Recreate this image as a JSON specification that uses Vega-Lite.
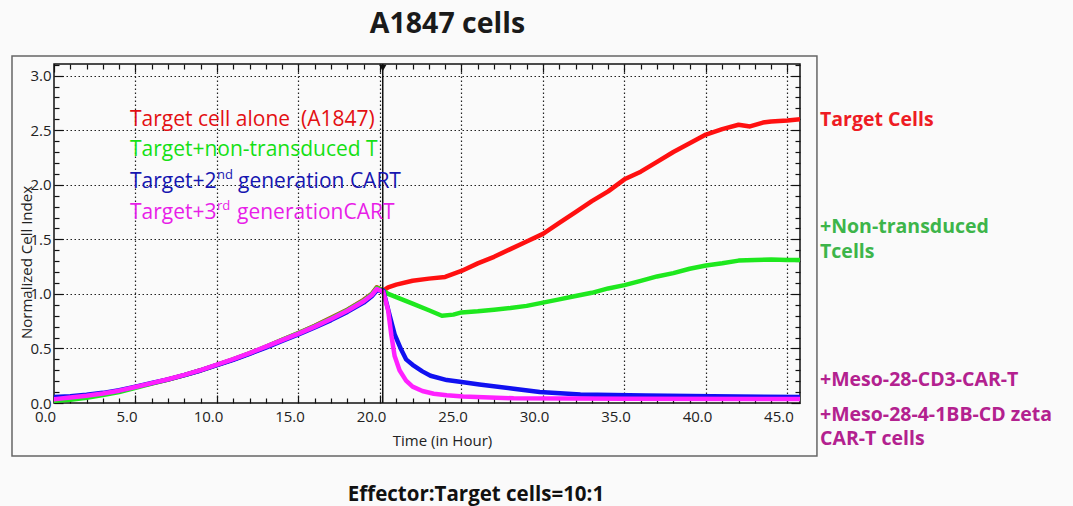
{
  "$schema": "https://vega.github.io/schema/vega-lite/v6.json",
  "width": 746,
  "height": 339,
  "autosize": {"type": "none"},
  "padding": {"left": 54, "top": 64, "right": 273, "bottom": 103},
  "background": "#fafafa",
  "config": {
    "view": {"stroke": "#111", "strokeWidth": 1.5},
    "font": "Open Sans",
    "axis": {"labelFont": "Open Sans", "titleFont": "Open Sans", "labelColor": "#222", "titleColor": "#222", "tickColor": "#111"}
  },
  "title": {
    "text": "Effector:Target cells=10:1",
    "orient": "bottom",
    "frame": "group",
    "anchor": "middle",
    "baseline": "alphabetic",
    "offset": 44,
    "dx": 49,
    "fontSize": 20.5,
    "fontWeight": "bold",
    "font": "Open Sans",
    "color": "#111"
  },
  "datasets": {
    "series": [
      {"s": "1 Target alone", "h": 0, "v": 0.04}, {"s": "1 Target alone", "h": 1, "v": 0.048}, {"s": "1 Target alone", "h": 2, "v": 0.065}, {"s": "1 Target alone", "h": 3, "v": 0.085}, {"s": "1 Target alone", "h": 4, "v": 0.11}, {"s": "1 Target alone", "h": 5, "v": 0.145}, {"s": "1 Target alone", "h": 6, "v": 0.18}, {"s": "1 Target alone", "h": 7, "v": 0.215}, {"s": "1 Target alone", "h": 8, "v": 0.255}, {"s": "1 Target alone", "h": 9, "v": 0.3}, {"s": "1 Target alone", "h": 10, "v": 0.35}, {"s": "1 Target alone", "h": 11, "v": 0.4}, {"s": "1 Target alone", "h": 12, "v": 0.455}, {"s": "1 Target alone", "h": 13, "v": 0.515}, {"s": "1 Target alone", "h": 14, "v": 0.578}, {"s": "1 Target alone", "h": 15, "v": 0.64}, {"s": "1 Target alone", "h": 16, "v": 0.707}, {"s": "1 Target alone", "h": 17, "v": 0.78}, {"s": "1 Target alone", "h": 18, "v": 0.855}, {"s": "1 Target alone", "h": 19, "v": 0.945}, {"s": "1 Target alone", "h": 19.5, "v": 1.0}, {"s": "1 Target alone", "h": 19.8, "v": 1.06}, {"s": "1 Target alone", "h": 20.2, "v": 1.03},
      {"s": "1 Target alone", "h": 20.5, "v": 1.06}, {"s": "1 Target alone", "h": 21, "v": 1.085}, {"s": "1 Target alone", "h": 22, "v": 1.12}, {"s": "1 Target alone", "h": 23, "v": 1.14}, {"s": "1 Target alone", "h": 24, "v": 1.155}, {"s": "1 Target alone", "h": 25, "v": 1.21}, {"s": "1 Target alone", "h": 26, "v": 1.28}, {"s": "1 Target alone", "h": 27, "v": 1.34}, {"s": "1 Target alone", "h": 28, "v": 1.41}, {"s": "1 Target alone", "h": 29, "v": 1.48}, {"s": "1 Target alone", "h": 30, "v": 1.55}, {"s": "1 Target alone", "h": 31, "v": 1.65}, {"s": "1 Target alone", "h": 32, "v": 1.75}, {"s": "1 Target alone", "h": 33, "v": 1.85}, {"s": "1 Target alone", "h": 34, "v": 1.94}, {"s": "1 Target alone", "h": 35, "v": 2.05}, {"s": "1 Target alone", "h": 36, "v": 2.12}, {"s": "1 Target alone", "h": 37, "v": 2.21}, {"s": "1 Target alone", "h": 38, "v": 2.3}, {"s": "1 Target alone", "h": 39, "v": 2.38}, {"s": "1 Target alone", "h": 40, "v": 2.46}, {"s": "1 Target alone", "h": 41, "v": 2.51}, {"s": "1 Target alone", "h": 42, "v": 2.55}, {"s": "1 Target alone", "h": 42.7, "v": 2.535}, {"s": "1 Target alone", "h": 43.5, "v": 2.57}, {"s": "1 Target alone", "h": 44, "v": 2.58}, {"s": "1 Target alone", "h": 45, "v": 2.59}, {"s": "1 Target alone", "h": 45.7, "v": 2.6},

      {"s": "2 Non-transduced T", "h": 0, "v": 0.02}, {"s": "2 Non-transduced T", "h": 1, "v": 0.03}, {"s": "2 Non-transduced T", "h": 2, "v": 0.048}, {"s": "2 Non-transduced T", "h": 3, "v": 0.072}, {"s": "2 Non-transduced T", "h": 4, "v": 0.1}, {"s": "2 Non-transduced T", "h": 5, "v": 0.138}, {"s": "2 Non-transduced T", "h": 6, "v": 0.177}, {"s": "2 Non-transduced T", "h": 7, "v": 0.214}, {"s": "2 Non-transduced T", "h": 8, "v": 0.255}, {"s": "2 Non-transduced T", "h": 9, "v": 0.3}, {"s": "2 Non-transduced T", "h": 10, "v": 0.35}, {"s": "2 Non-transduced T", "h": 11, "v": 0.4}, {"s": "2 Non-transduced T", "h": 12, "v": 0.455}, {"s": "2 Non-transduced T", "h": 13, "v": 0.515}, {"s": "2 Non-transduced T", "h": 14, "v": 0.578}, {"s": "2 Non-transduced T", "h": 15, "v": 0.64}, {"s": "2 Non-transduced T", "h": 16, "v": 0.705}, {"s": "2 Non-transduced T", "h": 17, "v": 0.777}, {"s": "2 Non-transduced T", "h": 18, "v": 0.852}, {"s": "2 Non-transduced T", "h": 19, "v": 0.94}, {"s": "2 Non-transduced T", "h": 19.5, "v": 0.998}, {"s": "2 Non-transduced T", "h": 19.8, "v": 1.055}, {"s": "2 Non-transduced T", "h": 20.2, "v": 1.03},
      {"s": "2 Non-transduced T", "h": 20.5, "v": 1.0}, {"s": "2 Non-transduced T", "h": 21, "v": 0.97}, {"s": "2 Non-transduced T", "h": 22, "v": 0.91}, {"s": "2 Non-transduced T", "h": 23, "v": 0.85}, {"s": "2 Non-transduced T", "h": 23.8, "v": 0.8}, {"s": "2 Non-transduced T", "h": 24.5, "v": 0.81}, {"s": "2 Non-transduced T", "h": 25, "v": 0.83}, {"s": "2 Non-transduced T", "h": 26, "v": 0.84}, {"s": "2 Non-transduced T", "h": 27, "v": 0.855}, {"s": "2 Non-transduced T", "h": 28, "v": 0.87}, {"s": "2 Non-transduced T", "h": 29, "v": 0.89}, {"s": "2 Non-transduced T", "h": 30, "v": 0.92}, {"s": "2 Non-transduced T", "h": 31, "v": 0.95}, {"s": "2 Non-transduced T", "h": 32, "v": 0.98}, {"s": "2 Non-transduced T", "h": 33, "v": 1.01}, {"s": "2 Non-transduced T", "h": 34, "v": 1.05}, {"s": "2 Non-transduced T", "h": 35, "v": 1.08}, {"s": "2 Non-transduced T", "h": 36, "v": 1.12}, {"s": "2 Non-transduced T", "h": 37, "v": 1.16}, {"s": "2 Non-transduced T", "h": 38, "v": 1.19}, {"s": "2 Non-transduced T", "h": 39, "v": 1.23}, {"s": "2 Non-transduced T", "h": 40, "v": 1.26}, {"s": "2 Non-transduced T", "h": 41, "v": 1.28}, {"s": "2 Non-transduced T", "h": 42, "v": 1.305}, {"s": "2 Non-transduced T", "h": 43, "v": 1.31}, {"s": "2 Non-transduced T", "h": 44, "v": 1.315}, {"s": "2 Non-transduced T", "h": 45, "v": 1.31}, {"s": "2 Non-transduced T", "h": 45.7, "v": 1.31},

      {"s": "3 2nd gen CART", "h": 0, "v": 0.055}, {"s": "3 2nd gen CART", "h": 1, "v": 0.062}, {"s": "3 2nd gen CART", "h": 2, "v": 0.075}, {"s": "3 2nd gen CART", "h": 3, "v": 0.093}, {"s": "3 2nd gen CART", "h": 4, "v": 0.117}, {"s": "3 2nd gen CART", "h": 5, "v": 0.15}, {"s": "3 2nd gen CART", "h": 6, "v": 0.183}, {"s": "3 2nd gen CART", "h": 7, "v": 0.217}, {"s": "3 2nd gen CART", "h": 8, "v": 0.255}, {"s": "3 2nd gen CART", "h": 9, "v": 0.298}, {"s": "3 2nd gen CART", "h": 10, "v": 0.347}, {"s": "3 2nd gen CART", "h": 11, "v": 0.396}, {"s": "3 2nd gen CART", "h": 12, "v": 0.45}, {"s": "3 2nd gen CART", "h": 13, "v": 0.508}, {"s": "3 2nd gen CART", "h": 14, "v": 0.568}, {"s": "3 2nd gen CART", "h": 15, "v": 0.628}, {"s": "3 2nd gen CART", "h": 16, "v": 0.692}, {"s": "3 2nd gen CART", "h": 17, "v": 0.76}, {"s": "3 2nd gen CART", "h": 18, "v": 0.835}, {"s": "3 2nd gen CART", "h": 19, "v": 0.92}, {"s": "3 2nd gen CART", "h": 19.5, "v": 0.978}, {"s": "3 2nd gen CART", "h": 19.8, "v": 1.03}, {"s": "3 2nd gen CART", "h": 20.2, "v": 1.03},
      {"s": "3 2nd gen CART", "h": 20.6, "v": 0.8}, {"s": "3 2nd gen CART", "h": 20.9, "v": 0.63}, {"s": "3 2nd gen CART", "h": 21.3, "v": 0.49}, {"s": "3 2nd gen CART", "h": 21.6, "v": 0.4}, {"s": "3 2nd gen CART", "h": 22, "v": 0.35}, {"s": "3 2nd gen CART", "h": 22.6, "v": 0.29}, {"s": "3 2nd gen CART", "h": 23.1, "v": 0.25}, {"s": "3 2nd gen CART", "h": 24.1, "v": 0.21}, {"s": "3 2nd gen CART", "h": 24.9, "v": 0.195}, {"s": "3 2nd gen CART", "h": 26.1, "v": 0.17}, {"s": "3 2nd gen CART", "h": 28.2, "v": 0.13}, {"s": "3 2nd gen CART", "h": 29.8, "v": 0.1}, {"s": "3 2nd gen CART", "h": 32.3, "v": 0.077}, {"s": "3 2nd gen CART", "h": 36.3, "v": 0.068}, {"s": "3 2nd gen CART", "h": 40.4, "v": 0.061}, {"s": "3 2nd gen CART", "h": 45.7, "v": 0.056},

      {"s": "4 3rd gen CART", "h": 0, "v": 0.035}, {"s": "4 3rd gen CART", "h": 1, "v": 0.05}, {"s": "4 3rd gen CART", "h": 2, "v": 0.066}, {"s": "4 3rd gen CART", "h": 3, "v": 0.087}, {"s": "4 3rd gen CART", "h": 4, "v": 0.113}, {"s": "4 3rd gen CART", "h": 5, "v": 0.147}, {"s": "4 3rd gen CART", "h": 6, "v": 0.182}, {"s": "4 3rd gen CART", "h": 7, "v": 0.218}, {"s": "4 3rd gen CART", "h": 8, "v": 0.258}, {"s": "4 3rd gen CART", "h": 9, "v": 0.302}, {"s": "4 3rd gen CART", "h": 10, "v": 0.352}, {"s": "4 3rd gen CART", "h": 11, "v": 0.402}, {"s": "4 3rd gen CART", "h": 12, "v": 0.457}, {"s": "4 3rd gen CART", "h": 13, "v": 0.516}, {"s": "4 3rd gen CART", "h": 14, "v": 0.576}, {"s": "4 3rd gen CART", "h": 15, "v": 0.636}, {"s": "4 3rd gen CART", "h": 16, "v": 0.7}, {"s": "4 3rd gen CART", "h": 17, "v": 0.77}, {"s": "4 3rd gen CART", "h": 18, "v": 0.845}, {"s": "4 3rd gen CART", "h": 19, "v": 0.932}, {"s": "4 3rd gen CART", "h": 19.5, "v": 0.99}, {"s": "4 3rd gen CART", "h": 19.8, "v": 1.045}, {"s": "4 3rd gen CART", "h": 20.2, "v": 1.02},
      {"s": "4 3rd gen CART", "h": 20.5, "v": 0.85}, {"s": "4 3rd gen CART", "h": 20.7, "v": 0.62}, {"s": "4 3rd gen CART", "h": 20.9, "v": 0.43}, {"s": "4 3rd gen CART", "h": 21.2, "v": 0.3}, {"s": "4 3rd gen CART", "h": 21.6, "v": 0.205}, {"s": "4 3rd gen CART", "h": 22, "v": 0.15}, {"s": "4 3rd gen CART", "h": 22.6, "v": 0.11}, {"s": "4 3rd gen CART", "h": 23.3, "v": 0.085}, {"s": "4 3rd gen CART", "h": 24.1, "v": 0.072}, {"s": "4 3rd gen CART", "h": 25.1, "v": 0.06}, {"s": "4 3rd gen CART", "h": 28.2, "v": 0.043}, {"s": "4 3rd gen CART", "h": 35, "v": 0.038}, {"s": "4 3rd gen CART", "h": 45.7, "v": 0.037}
    ],
    "legend": [
      {"s": "red", "label": "Target cell alone\u00a0\u00a0(A1847)", "h": 4.66, "v": 2.539},
      {"s": "green", "label": "Target+non-transduced T", "h": 4.66, "v": 2.264},
      {"s": "blue", "label": "Target+2", "h": 4.66, "v": 1.971},
      {"s": "blue", "label": "generation CART", "h": 11.29, "v": 1.971},
      {"s": "magenta", "label": "Target+3", "h": 4.66, "v": 1.687},
      {"s": "magenta", "label": "generationCART", "h": 11.23, "v": 1.687}
    ],
    "supers": [
      {"s": "blue", "label": "nd", "h": 10.0, "v": 2.053},
      {"s": "magenta", "label": "rd", "h": 10.0, "v": 1.769}
    ],
    "notes": [
      {"g": "target", "label": "Target Cells", "h": 47.0, "v": 2.539},
      {"g": "nontrans", "label": "+Non-transduced", "h": 47.0, "v": 1.555},
      {"g": "nontrans", "label": "Tcells", "h": 47.0, "v": 1.326},
      {"g": "car", "label": "+Meso-28-CD3-CAR-T", "h": 47.0, "v": 0.156},
      {"g": "car", "label": "+Meso-28-4-1BB-CD zeta", "h": 47.0, "v": -0.162},
      {"g": "car", "label": "CAR-T cells", "h": 47.0, "v": -0.385}
    ],
    "frame": [{"h": -2.577, "h2": 46.81, "v": 3.181, "v2": -0.486}],
    "marker": [{"h": 20.17, "v": 3.07}]
  },
  "resolve": {"axis": {"x": "independent", "y": "independent"}, "scale": {"color": "independent"}},
  "layer": [
    {
      "data": {"name": "frame"},
      "mark": {"type": "rect", "fill": "transparent", "stroke": "#666", "strokeWidth": 1.5, "clip": false},
      "encoding": {
        "x": {"field": "h", "type": "quantitative", "scale": {"domain": [0, 45.77], "nice": false, "zero": false}, "axis": null},
        "x2": {"field": "h2"},
        "y": {"field": "v", "type": "quantitative", "scale": {"domain": [0, 3.107], "nice": false, "zero": false}, "axis": null},
        "y2": {"field": "v2"}
      }
    },
    {
      "data": {"name": "series"},
      "mark": {"type": "line", "strokeWidth": 4.5, "strokeJoin": "round", "strokeCap": "square", "clip": true},
      "encoding": {
        "x": {
          "field": "h", "type": "quantitative",
          "scale": {"domain": [0, 45.77], "nice": false, "zero": false},
          "axis": {
            "orient": "bottom",
            "values": [0,1,2,3,4,5,6,7,8,9,10,11,12,13,14,15,16,17,18,19,20,21,22,23,24,25,26,27,28,29,30,31,32,33,34,35,36,37,38,39,40,41,42,43,44,45],
            "labelExpr": "datum.value % 5 === 0 ? format(datum.value, '.1f') : ''",
            "labelFontSize": 15,
            "labelOffset": -9,
            "labelPadding": 14,
            "labelFlush": false,
            "labelOverlap": false,
            "tickSize": {"condition": {"test": "datum.value % 5 === 0", "value": -8}, "value": -5},
            "tickWidth": 1.2,
            "grid": true,
            "gridColor": "#222",
            "gridDash": [1.5, 2.5],
            "gridWidth": 1.2,
            "gridOpacity": {"condition": {"test": "datum.value % 5 === 0 && datum.value > 0", "value": 1}, "value": 0},
            "domain": false,
            "title": "Time (in Hour)",
            "titleFontSize": 15,
            "titleFontWeight": "normal",
            "titleX": 388,
            "titleY": 37,
            "titleBaseline": "middle"
          }
        },
        "y": {
          "field": "v", "type": "quantitative",
          "scale": {"domain": [0, 3.107], "nice": false, "zero": false},
          "axis": {
            "orient": "left",
            "values": [0,0.1,0.2,0.3,0.4,0.5,0.6,0.7,0.8,0.9,1,1.1,1.2,1.3,1.4,1.5,1.6,1.7,1.8,1.9,2,2.1,2.2,2.3,2.4,2.5,2.6,2.7,2.8,2.9,3,3.1],
            "labelExpr": "round(datum.value * 10) % 5 === 0 ? format(datum.value, '.1f') : ''",
            "labelFontSize": 15,
            "labelPadding": 12,
            "labelFlush": false,
            "labelOverlap": false,
            "tickSize": {"condition": {"test": "round(datum.value * 10) % 5 === 0", "value": -9}, "value": -5},
            "tickWidth": 1.2,
            "grid": true,
            "gridColor": "#222",
            "gridDash": [1.5, 2.5],
            "gridWidth": 1.2,
            "gridOpacity": {"condition": {"test": "round(datum.value * 10) % 5 === 0 && datum.value > 0", "value": 1}, "value": 0},
            "domain": false,
            "title": "Normalized Cell Index",
            "titleFontSize": 15,
            "titleFontWeight": "normal",
            "titleX": -28,
            "titleY": 198,
            "titleBaseline": "middle"
          }
        },
        "color": {
          "field": "s", "type": "nominal",
          "scale": {"domain": ["1 Target alone", "2 Non-transduced T", "3 2nd gen CART", "4 3rd gen CART"], "range": ["#ff1010", "#1ee81e", "#1010f0", "#ff20ff"]},
          "legend": null
        }
      }
    },
    {
      "data": {"name": "marker"},
      "mark": {"type": "point", "shape": "triangle-down", "filled": true, "color": "#111", "size": 55, "opacity": 1},
      "encoding": {
        "x": {
          "field": "h", "type": "quantitative",
          "scale": {"domain": [0, 45.77], "nice": false, "zero": false},
          "axis": {
            "orient": "top",
            "values": [0,1,2,3,4,5,6,7,8,9,10,11,12,13,14,15,16,17,18,19,20,21,22,23,24,25,26,27,28,29,30,31,32,33,34,35,36,37,38,39,40,41,42,43,44,45],
            "labels": false,
            "tickSize": {"condition": {"test": "datum.value % 5 === 0", "value": -8}, "value": -5},
            "tickWidth": 1.2,
            "grid": false,
            "domain": false,
            "title": "A1847 cells",
            "titleFontSize": 28.5,
            "titleFontWeight": "bold",
            "titleColor": "#1a1a1a",
            "titleX": 393,
            "titleY": -41,
            "titleBaseline": "middle"
          }
        },
        "y": {
          "field": "v", "type": "quantitative",
          "scale": {"domain": [0, 3.107], "nice": false, "zero": false},
          "axis": {
            "orient": "right",
            "values": [0,0.1,0.2,0.3,0.4,0.5,0.6,0.7,0.8,0.9,1,1.1,1.2,1.3,1.4,1.5,1.6,1.7,1.8,1.9,2,2.1,2.2,2.3,2.4,2.5,2.6,2.7,2.8,2.9,3,3.1],
            "labels": false,
            "tickSize": {"condition": {"test": "round(datum.value * 10) % 5 === 0", "value": -9}, "value": -5},
            "tickWidth": 1.2,
            "grid": false,
            "domain": false,
            "title": null
          }
        }
      }
    },
    {
      "data": {"name": "marker"},
      "mark": {"type": "rule", "color": "#111", "strokeWidth": 1.5},
      "encoding": {
        "x": {"field": "h", "type": "quantitative", "scale": {"domain": [0, 45.77], "nice": false, "zero": false}, "axis": null}
      }
    },
    {
      "data": {"name": "legend"},
      "mark": {"type": "text", "align": "left", "baseline": "alphabetic", "font": "Open Sans", "fontSize": 21},
      "encoding": {
        "x": {"field": "h", "type": "quantitative", "scale": {"domain": [0, 45.77], "nice": false, "zero": false}, "axis": null},
        "y": {"field": "v", "type": "quantitative", "scale": {"domain": [0, 3.107], "nice": false, "zero": false}, "axis": null},
        "text": {"field": "label"},
        "color": {"field": "s", "type": "nominal", "scale": {"domain": ["red", "green", "blue", "magenta"], "range": ["#e30f12", "#14e014", "#1616b0", "#e81ee8"]}, "legend": null}
      }
    },
    {
      "data": {"name": "supers"},
      "mark": {"type": "text", "align": "left", "baseline": "alphabetic", "font": "Open Sans", "fontSize": 13},
      "encoding": {
        "x": {"field": "h", "type": "quantitative", "scale": {"domain": [0, 45.77], "nice": false, "zero": false}, "axis": null},
        "y": {"field": "v", "type": "quantitative", "scale": {"domain": [0, 3.107], "nice": false, "zero": false}, "axis": null},
        "text": {"field": "label"},
        "color": {"field": "s", "type": "nominal", "scale": {"domain": ["blue", "magenta"], "range": ["#1616b0", "#e81ee8"]}, "legend": null}
      }
    },
    {
      "data": {"name": "notes"},
      "mark": {"type": "text", "align": "left", "baseline": "alphabetic", "font": "Open Sans", "fontSize": 19.5, "fontWeight": "bold"},
      "encoding": {
        "x": {"field": "h", "type": "quantitative", "scale": {"domain": [0, 45.77], "nice": false, "zero": false}, "axis": null},
        "y": {"field": "v", "type": "quantitative", "scale": {"domain": [0, 3.107], "nice": false, "zero": false}, "axis": null},
        "text": {"field": "label"},
        "color": {"field": "g", "type": "nominal", "scale": {"domain": ["target", "nontrans", "car"], "range": ["#ee1c24", "#3db54a", "#b3218f"]}, "legend": null}
      }
    }
  ]
}
